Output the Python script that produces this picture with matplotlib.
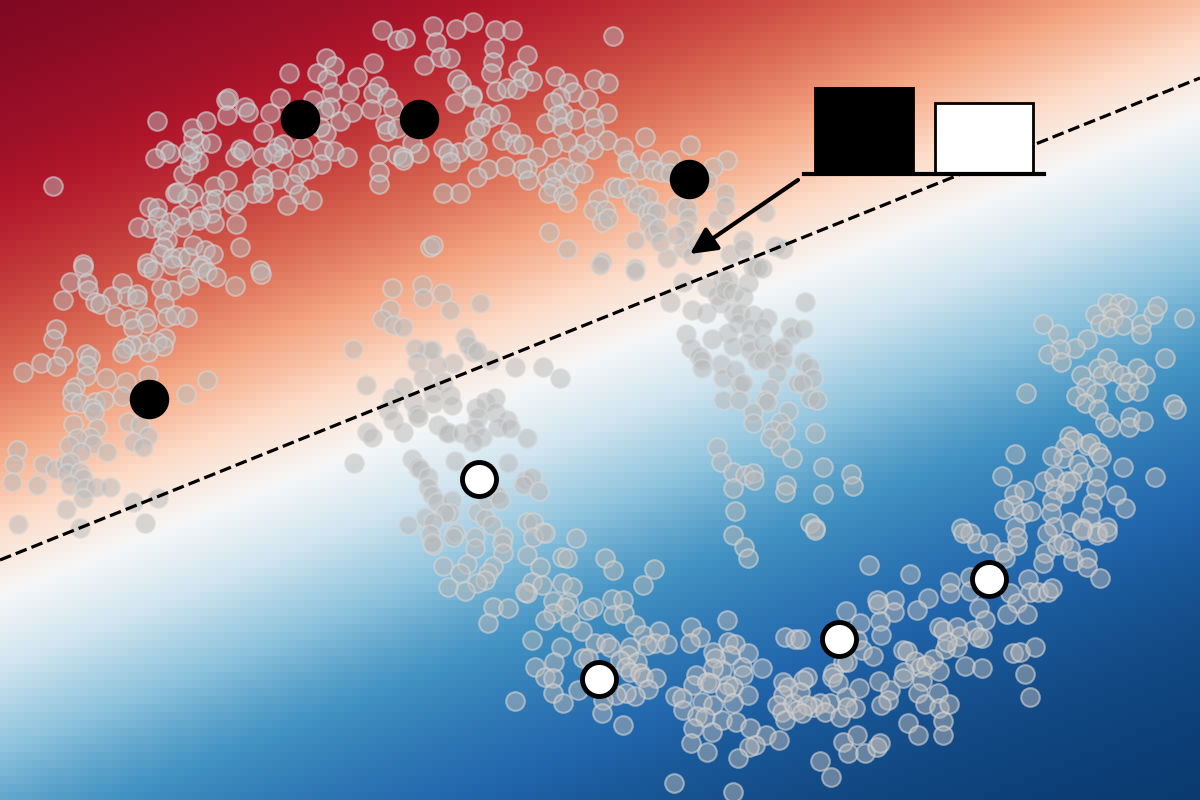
import numpy as np
import matplotlib
matplotlib.use("Agg")
import matplotlib.pyplot as plt

# unlabeled points (pixel coords, y down)
unlabeled_top = [
    (382,30),(326,58),(334,66),(289,73),(317,73),(327,79),(357,77),(373,63),(378,86),(373,93),
    (387,97),(397,40),(332,92),(349,92),(313,100),(280,98),(226,100),(228,98),(227,115),(245,107),
    (248,112),(270,113),(330,107),(324,110),(340,121),(352,112),(371,109),(385,124),(387,131),(397,128),
    (393,108),(326,133),(320,127),(302,147),(323,150),(334,151),(347,157),(379,154),(397,155),(379,172),
    (379,184),(321,164),(308,169),(299,173),(293,184),(299,194),(312,200),(287,205),(278,179),(263,132),
    (262,157),(262,177),(263,185),(263,193),(253,193),(277,147),(283,144),(283,158),(273,153),(235,157),
    (240,149),(243,151),(227,180),(214,186),(210,200),(216,199),(233,204),(237,200),(211,213),(214,223),
    (236,224),(240,247),(193,193),(187,198),(175,193),(177,192),(183,174),(190,165),(198,161),(192,153),
    (188,151),(200,143),(211,143),(193,138),(192,128),(206,121),(157,121),(165,150),(170,153),(155,158),
    (53,186),(149,207),(157,208),(158,217),(180,215),(200,216),(198,220),(170,222),(183,227),(151,228),
    (138,227),(163,230),(167,240),(163,247),(160,254),(172,258),(180,257),(188,257),(193,245),(205,250),
    (213,254),(202,265),(147,263),(83,264),(260,270),
    (405,38),(433,26),(456,29),(473,22),(495,30),(512,30),(436,42),(494,48),(440,57),(450,58),
    (424,65),(493,62),(491,73),(527,55),(518,70),(523,78),(532,81),(457,79),(461,84),(472,95),
    (472,97),(455,103),(496,91),(507,88),(517,89),(555,76),(568,83),(594,79),(608,83),(613,36),
    (573,92),(588,99),(560,97),(553,102),(563,113),(557,115),(546,123),(562,127),(575,119),(593,117),
    (594,128),(607,113),(607,140),(593,149),(585,143),(578,154),(567,142),(552,147),(537,157),(527,168),
    (522,169),(528,180),(505,166),(488,169),(477,177),(547,178),(555,172),(563,167),(568,182),(575,173),
    (583,173),(553,187),(548,193),(563,195),(567,202),(483,113),(490,117),(500,114),(475,130),(480,127),
    (510,132),(502,140),(515,144),(523,144),(472,146),(477,150),(459,152),(443,148),(448,153),(450,162),
    (419,153),(412,143),(403,157),(403,160),(443,193),(460,193),(430,247),(433,245),(549,232),(567,249),
    (602,261),(635,240),(635,268),(667,258),(683,248),(692,255),(697,242),(730,254),(743,240),(743,248),
    (757,267),(775,246),(783,249),(765,212),(717,219),(725,193),(725,206),(727,160),(713,167),(707,180),
    (690,145),(645,137),(623,147),(627,160),(628,163),(639,170),(650,159),(653,170),(661,172),(670,160),
    (670,173),(613,187),(618,188),(628,187),(633,200),(640,195),(648,197),(637,205),(598,199),(593,210),
    (605,210),(602,222),(608,218),(647,213),(652,211),(657,212),(648,223),(653,233),(658,228),(660,242),
    (676,206),(687,208),(688,218),(685,229),(676,235),
]

unlabeled_mid = [
    (83,267),(147,267),(153,270),(172,265),(200,268),(207,272),(216,277),(187,278),(189,285),(161,288),
    (172,290),(235,286),(261,274),(70,282),(87,283),(88,290),(122,283),(112,296),(127,296),(137,294),
    (137,299),(63,300),(95,302),(100,304),(164,303),(167,317),(175,315),(187,317),(115,316),(130,319),
    (145,317),(147,323),(133,328),(56,329),(53,339),(165,338),(157,342),(163,346),(140,344),(132,345),
    (125,348),(122,353),(148,352),(63,356),(41,363),(56,366),(23,372),(86,354),(90,357),(87,365),
    (86,376),(106,378),(126,382),(148,375),(207,380),(186,394),(122,396),(75,387),(72,392),(72,402),
    (80,403),(95,402),(104,400),(92,408),(94,412),(73,424),(97,428),(90,437),(77,438),(69,445),
    (93,444),(81,452),(107,452),(128,422),(140,425),(148,436),(133,442),(143,447),(17,450),(14,464),
    (43,464),(55,469),(65,464),(70,462),(67,473),(80,472),(83,478),(12,482),(37,485),(70,485),
    (85,488),(96,487),(110,487),(83,498),(66,509),(18,524),(80,528),(133,502),(158,498),(145,523),
    (392,288),(390,309),(382,319),(393,325),(353,349),(366,385),(392,398),(388,410),(393,420),(367,432),
    (372,437),(354,463),
    (422,285),(423,298),(442,293),(450,310),(480,303),(600,265),(635,271),(683,282),(670,302),(692,310),
    (706,313),(707,287),(717,295),(720,303),(722,280),(728,280),(725,290),(733,292),(743,297),(748,283),
    (753,267),(762,268),(733,312),(740,313),(738,323),(753,315),(750,328),(767,318),(762,327),(790,327),
    (792,335),(686,334),(691,348),(699,356),(702,360),(702,368),(712,339),(728,333),(733,346),(748,342),
    (750,350),(763,343),(772,352),(757,360),(763,360),(778,352),(783,360),(783,347),(721,364),(723,378),
    (735,370),(740,385),(743,383),(777,373),(770,388),(797,383),(723,400),(739,400),(765,400),(767,402),
    (753,412),(788,411),(753,423),(780,422),(773,430),(785,431),(770,438),(780,447),(792,458),(717,447),
    (721,462),(733,472),(745,475),(753,473),(754,480),(733,488),(786,485),(785,492),(735,511),(515,367),
    (543,367),(560,378),(490,360),(473,352),(465,337),(468,345),(477,351),(453,363),(437,365),(428,350),
    (432,350),(415,348),(417,362),(423,378),(403,327),(403,387),(433,392),(443,382),(450,395),(433,403),
    (413,402),(452,405),(417,413),(418,417),(476,408),(485,402),(495,398),(495,412),(478,417),(507,420),
    (498,427),(510,428),(438,425),(447,432),(448,433),(462,433),(475,428),(482,437),(473,442),(527,438),
    (403,432),(412,459),(418,467),(420,469),(428,477),(428,487),(432,495),(437,502),(455,461),(452,500),
    (450,513),(445,513),(425,517),(433,522),(408,525),(477,512),(485,518),(487,500),(497,495),(500,500),
    (508,463),(525,480),(532,477),(523,485),(539,491),(527,522),(533,522),(492,525),(455,533),(543,532),
    (805,302),(803,329),(803,362),(810,367),(813,378),(802,383),(810,398),(817,400),(815,433),(823,467),
    (851,474),(853,486),(823,494),(810,523),(815,528),(1026,393),(1043,324),(1058,334),(1087,339),(1075,348),
    (1060,349),(1048,354),(1061,362),(1095,314),(1107,303),(1119,303),(1127,307),(1112,313),(1113,318),(1100,324),
    (1108,327),(1123,325),(1141,324),(1141,334),(1153,314),(1157,306),(1184,318),(1165,358),(1107,358),(1098,368),
    (1102,375),(1113,371),(1122,375),(1137,368),(1145,375),(1129,382),(1125,392),(1138,391),(1081,375),(1086,387),
    (1096,393),(1076,396),(1085,403),(1098,409),(1105,422),(1110,427),(1130,417),(1129,427),(1143,421),(1173,404),
    (1176,409),(1069,436),(1073,440),(1065,447),(1063,458),(1052,456),(1087,445),(1090,443),(1098,452),(1101,457),
    (1078,464),(1082,472),(1123,467),(1155,477),(1015,454),(1002,476),(1044,481),(1054,476),(1067,481),(1072,481),
    (1055,489),(1065,493),(1097,476),(1096,489),(1014,494),(1024,490),(1013,505),(1004,509),(1023,513),(1031,511),
    (1052,501),(1051,513),(1092,503),(1090,517),(1116,495),(1125,508),(1015,527),(1054,527),(1070,522),(1082,528),
    (1107,527),(1097,532),(961,528),(970,533),
]

unlabeled_low = [
    (430,534),(453,537),(475,537),(475,548),(433,545),(432,543),(503,537),(502,543),(503,553),(533,537),
    (545,533),(576,538),(527,555),(562,557),(567,558),(605,558),(613,570),(654,569),(643,585),(443,566),
    (467,564),(460,573),(493,566),(488,573),(485,580),(477,583),(448,587),(465,591),(540,567),(532,582),
    (542,585),(527,593),(525,592),(562,583),(572,587),(553,601),(568,602),(565,607),(553,613),(545,620),
    (570,622),(582,631),(587,610),(593,607),(612,599),(623,600),(613,615),(624,613),(493,607),(508,608),
    (488,623),(532,640),(561,647),(595,643),(606,643),(610,647),(635,625),(643,635),(659,631),(655,643),
    (667,644),(647,645),(630,647),(628,655),(620,660),(637,662),(626,667),(630,672),(640,673),(643,677),
    (656,678),(648,689),(635,696),(626,693),(616,695),(583,658),(588,658),(554,662),(535,667),(545,677),
    (553,678),(553,693),(563,703),(578,690),(603,700),(602,713),(623,725),(515,701),(691,627),(700,637),
    (690,643),(727,620),(728,642),(735,644),(730,655),(713,652),(715,658),(748,653),(742,667),(743,675),
    (762,668),(722,670),(713,668),(696,675),(693,685),(707,682),(710,683),(728,685),(733,687),(725,692),
    (748,695),(733,703),(702,702),(713,705),(675,696),(682,698),(683,710),(697,716),(705,717),(722,720),
    (736,722),(750,728),(766,735),(693,728),(712,732),(779,740),(755,745),(749,747),(691,743),(707,752),
    (738,758),(674,783),(733,792),(783,682),(788,687),(783,695),(777,705),(782,712),(785,720),(793,703),
    (797,710),(785,637),(795,639),(733,535),(744,547),(748,558),
    (815,530),(963,533),(977,543),(990,543),(1003,552),(1005,558),(1017,545),(1017,537),(1047,533),(1045,553),
    (1043,563),(1057,545),(1063,543),(1070,548),(1073,561),(1087,558),(1087,567),(1097,535),(1107,532),(1100,578),
    (1082,530),(869,565),(910,574),(950,582),(950,593),(970,577),(970,591),(1010,593),(1028,579),(1030,592),
    (1038,592),(1048,592),(1052,588),(1017,603),(1007,614),(1027,614),(979,608),(985,620),(928,598),(917,610),
    (894,600),(894,612),(877,600),(878,604),(846,611),(860,623),(880,621),(881,635),(800,639),(857,640),
    (862,650),(873,656),(903,650),(907,651),(939,627),(943,630),(957,627),(973,630),(982,638),(960,636),
    (957,647),(945,649),(947,642),(978,637),(1013,653),(1020,652),(1035,647),(915,661),(920,667),(926,665),
    (933,659),(939,671),(965,666),(982,668),(1025,674),(1030,697),(843,662),(847,662),(833,673),(832,677),
    (838,683),(807,677),(803,680),(800,692),(859,688),(846,697),(830,703),(820,703),(813,707),(807,705),
    (825,712),(802,713),(840,717),(855,708),(847,707),(879,681),(890,690),(888,700),(881,705),(904,672),
    (903,678),(922,681),(918,693),(925,704),(938,693),(939,708),(949,704),(943,721),(943,735),(908,723),
    (918,735),(843,742),(857,735),(848,753),(865,753),(877,747),(880,743),(820,761),(831,777),
]

# labeled points
black_x = [300, 419, 689, 149]
black_y = [119, 119, 179, 399]
white_x = [479, 599, 839, 989]
white_y = [479, 679, 639, 579]

# decision boundary (dashed) and the arrow
boundary_x = [0, 1200]
boundary_y = [560, 78]
arrow_tail = (798, 180)
arrow_head = (690, 254)

# class share bars in the inset
bar_colors = ["black", "white"]
bar_values = [55, 45]

W, H = 1200, 800
fig = plt.figure(figsize=(12, 8), dpi=100)
ax = fig.add_axes([0, 0, 1, 1])
ax.set_xlim(0, W)
ax.set_ylim(H, 0)
ax.axis("off")

# background: probability field of the linear classifier
slope = (boundary_y[1] - boundary_y[0]) / (boundary_x[1] - boundary_x[0])
xs = np.arange(4, W, 8)
ys = np.arange(4, H, 8)
gx, gy = np.meshgrid(xs, ys)
dist = (gy - (boundary_y[0] + 35 + slope * gx)) / np.sqrt(1 + slope ** 2)
prob = 1 / (1 + np.exp(-0.006 * dist))
ax.imshow(prob, cmap="RdBu", vmin=0, vmax=1, extent=(0, W, H, 0),
          interpolation="nearest", aspect="auto", zorder=0)

pts = np.array(unlabeled_top + unlabeled_mid + unlabeled_low, dtype=float)
ax.scatter(pts[:, 0], pts[:, 1], s=180, facecolor=(0.72, 0.72, 0.72, 0.5),
           edgecolor=(0.84, 0.84, 0.84, 0.6), linewidths=1.5, zorder=2)

ax.plot(boundary_x, boundary_y, color="black", ls="--", lw=2.3, zorder=3)

ax.scatter(black_x, black_y, s=620, facecolor="black", edgecolor="black",
           linewidths=3.5, zorder=4)
ax.scatter(white_x, white_y, s=600, facecolor="white", edgecolor="black",
           linewidths=3.5, zorder=4)

ax.annotate("", xy=arrow_head, xytext=arrow_tail,
            arrowprops=dict(arrowstyle="-|>,head_length=0.8,head_width=0.4",
                            color="black", lw=3, mutation_scale=20,
                            shrinkA=0, shrinkB=0), zorder=5)

# inset bar chart
ax_in = fig.add_axes([804 / W, 1 - 174 / H, 240 / W, 87 / H])
ax_in.patch.set_alpha(0)
ax_in.bar([0, 1], bar_values, width=0.81, color=bar_colors,
          edgecolor="black", linewidth=2)
ax_in.axhline(0, color="black", lw=3, clip_on=False)
ax_in.set_xlim(-0.5, 1.5)
ax_in.set_ylim(0, max(bar_values))
ax_in.axis("off")

fig.savefig("out.png", dpi=100)
